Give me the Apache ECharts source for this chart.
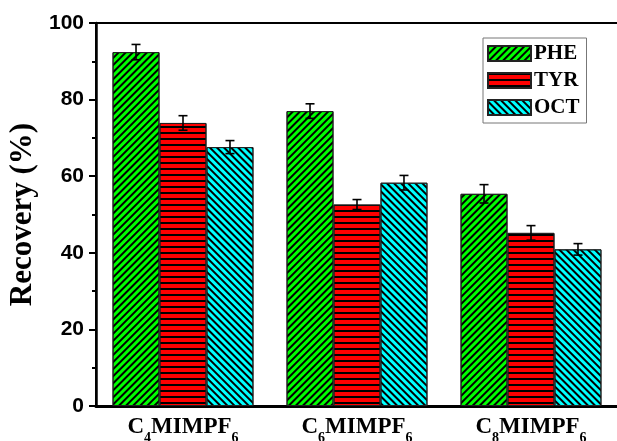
<!DOCTYPE html>
<html>
<head>
<meta charset="utf-8">
<script src="https://cdn.jsdelivr.net/npm/echarts@6/dist/echarts.min.js"></script>
<style>
  html, body { margin: 0; padding: 0; background: #fff; }
  #chart { width: 617px; height: 441px; }
</style>
</head>
<body>
<div id="chart"></div>
<script>
// Ionic liquids (extraction solvents) and analytes
const categories = [
  { base: 'C', n: '4', rest: 'MIMPF', m: '6' },
  { base: 'C', n: '6', rest: 'MIMPF', m: '6' },
  { base: 'C', n: '8', rest: 'MIMPF', m: '6' }
];
const seriesNames = ['PHE', 'TYR', 'OCT'];

// Mean recovery (%) per solvent
const phe = [92.4, 77.0, 55.4];
const tyr = [73.9, 52.6, 45.2];
const oct = [67.6, 58.3, 40.9];

// Standard deviations (%)
const pheErr = [2.0, 1.9, 2.4];
const tyrErr = [1.9, 1.3, 1.9];
const octErr = [1.7, 1.9, 1.5];

const yTicks = [0, 20, 40, 60, 80, 100];

const values = [phe, tyr, oct];
const errors = [pheErr, tyrErr, octErr];
const fills = ['#00ff00', '#ff0000', '#00ffff'];
// hatch patterns: "/" for PHE, horizontal for TYR, "\" for OCT
const decals = [
  { symbol: 'rect', symbolSize: 1, dashArrayX: [1, 0], dashArrayY: [1.1, 2.1], rotation: -Math.PI / 4, color: '#000' },
  { symbol: 'rect', symbolSize: 1, dashArrayX: [1, 0], dashArrayY: [1.4, 3.1], rotation: 0, color: '#000' },
  { symbol: 'rect', symbolSize: 1, dashArrayX: [1, 0], dashArrayY: [1.2, 3.0], rotation: Math.PI / 4, color: '#000' }
];
const BAR_FRACTION = 0.27;

const chart = echarts.init(document.getElementById('chart'), null, { renderer: 'canvas' });

const barSeries = seriesNames.map((name, i) => ({
  name,
  type: 'bar',
  data: values[i],
  barWidth: (BAR_FRACTION * 100) + '%',
  barGap: '0%',
  itemStyle: { color: fills[i], borderColor: '#222', borderWidth: 1, decal: decals[i] },
  emphasis: { disabled: true },
  z: 2
}));

const errSeries = seriesNames.map((name, i) => ({
  type: 'custom',
  name: name + '-err',
  data: values[i].map((v, k) => [k, v - errors[i][k], v + errors[i][k]]),
  z: 5,
  silent: true,
  renderItem: function (params, api) {
    const k = api.value(0);
    const band = api.size([1, 0])[0];
    const dx = (i - 1) * band * BAR_FRACTION;
    const lo = api.coord([k, api.value(1)]);
    const hi = api.coord([k, api.value(2)]);
    const x = lo[0] + dx;
    const cap = 4.5;
    const st = { stroke: '#000', lineWidth: 1.6 };
    return {
      type: 'group',
      children: [
        { type: 'line', shape: { x1: x, y1: lo[1], x2: x, y2: hi[1] }, style: st },
        { type: 'line', shape: { x1: x - cap, y1: lo[1], x2: x + cap, y2: lo[1] }, style: st },
        { type: 'line', shape: { x1: x - cap, y1: hi[1], x2: x + cap, y2: hi[1] }, style: st }
      ]
    };
  }
}));

chart.setOption({
  animation: false,
  backgroundColor: '#fff',
  grid: {
    left: 96, top: 23, width: 522, bottom: 35,
    outerBoundsMode: 'none', containLabel: false,
    show: true, borderColor: '#000', borderWidth: 2, backgroundColor: 'transparent'
  },
  legend: {
    data: seriesNames,
    orient: 'vertical',
    left: 483,
    top: 38,
    padding: [5, 7, 5, 4],
    itemWidth: 43,
    itemHeight: 15,
    itemGap: 6,
    icon: 'rect',
    borderColor: '#777',
    borderWidth: 1,
    textStyle: { fontFamily: 'Liberation Serif', fontWeight: 'bold', fontSize: 21, color: '#000', padding: [0, 0, 0, -2] }
  },
  xAxis: {
    type: 'category',
    data: categories.map((c, i) => i),
    axisLine: { lineStyle: { color: '#000', width: 3 } },
    axisTick: { show: false },
    axisLabel: {
      margin: 4,
      formatter: function (v) {
        const c = categories[+v];
        return '{a|' + c.base + '}{s|' + c.n + '}{a|' + c.rest + '}{s|' + c.m + '}';
      },
      rich: {
        a: { fontFamily: 'Liberation Serif', fontWeight: 'bold', fontSize: 23, color: '#000', lineHeight: 24 },
        s: { fontFamily: 'Liberation Serif', fontWeight: 'bold', fontSize: 14, color: '#000', padding: [21, 0, 0, 0] }
      }
    }
  },
  yAxis: {
    type: 'value',
    min: yTicks[0],
    max: yTicks[yTicks.length - 1],
    interval: yTicks[1] - yTicks[0],
    name: 'Recovery (%)',
    nameLocation: 'middle',
    nameGap: 54,
    nameTextStyle: { fontFamily: 'Liberation Serif', fontWeight: 'bold', fontSize: 31, color: '#000', padding: [0, 0, 0, 0] },
    axisLine: { show: true, lineStyle: { color: '#000', width: 2.5 } },
    axisTick: { show: true, length: 7, lineStyle: { color: '#000', width: 2 } },
    minorTick: { show: true, splitNumber: 2, length: 4, lineStyle: { color: '#000', width: 2 } },
    splitLine: { show: false },
    axisLabel: { margin: 12, fontFamily: 'Liberation Sans', fontWeight: 'bold', fontSize: 21, color: '#000' }
  },
  series: barSeries.concat(errSeries)
});
</script>
</body>
</html>
